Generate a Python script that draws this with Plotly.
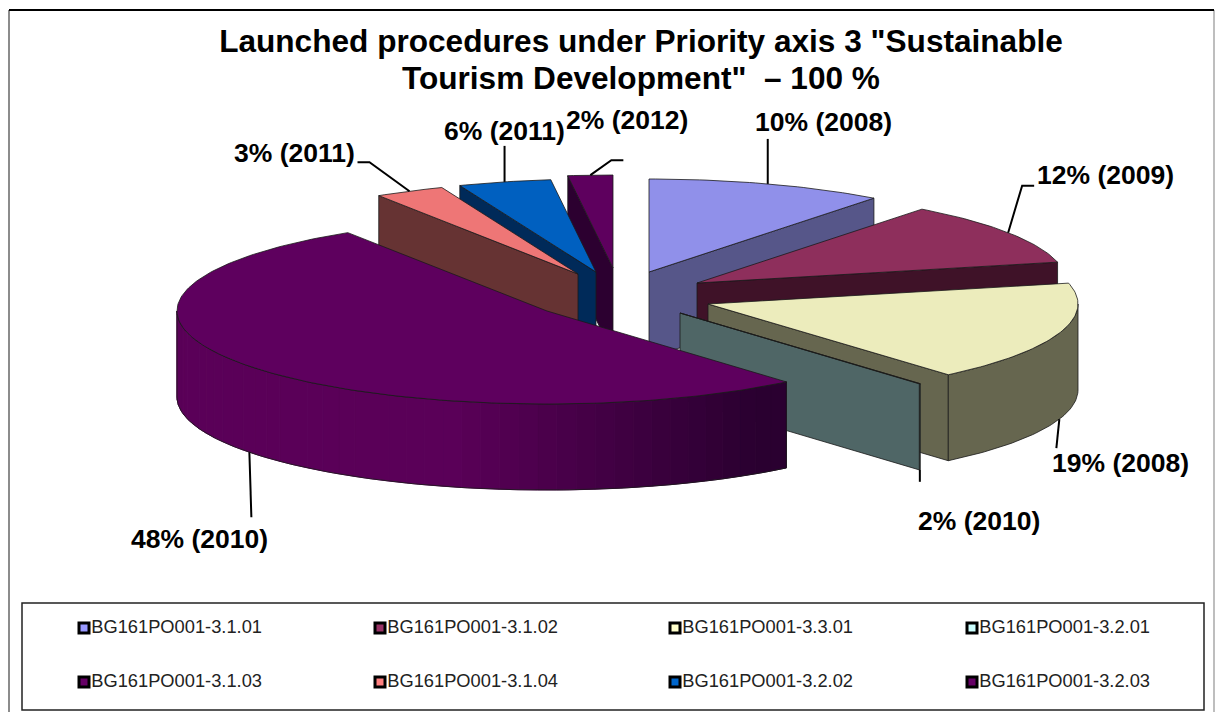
"""
Exploded 3D-look pie of launched procedures, drawn as filled polygons on hidden axes.
"""
import math
import plotly.graph_objects as go

# data
codes = ["BG161PO001-3.1.01", "BG161PO001-3.1.02", "BG161PO001-3.3.01", "BG161PO001-3.2.01",
         "BG161PO001-3.1.03", "BG161PO001-3.1.04", "BG161PO001-3.2.02", "BG161PO001-3.2.03"]
slice_labels = ["10% (2008)", "12% (2009)", "19% (2008)", "2% (2010)",
                "48% (2010)", "3% (2011)", "6% (2011)", "2% (2012)"]
# share of the circle each slice really takes in the drawing
shares = [10.4, 11.0, 17.35, 0.05, 52.15, 3.05, 4.05, 1.95]

legend_colors = ["#9999FF", "#993366", "#FFFFCC", "#CCFFFF", "#660066", "#FF8080", "#0066CC", "#660066"]
top_colors = ["#9090EA", "#8E2F5C", "#ECECBC", "#CCFFFF", "#5E005E", "#EE7676", "#0060C0", "#5E005E"]
wall_colors = ["#565689", "#3F1228", "#66664F", "#4F6666", "#5A0058", "#663333", "#002A59", "#2C0030"]

# pixel layout of the projected pie
RX, RY, DEPTH = 370, 93, 86
apex = [(649, 272), (697, 283), (708, 304), (680, 313), (547, 311), (578, 274), (596, 272), (613, 268)]
end_wall = [0, 1, 2, 3]      # slices that show the face at their clockwise end
start_wall = [5, 6, 7]       # slices that show the face at their start
draw_order = [0, 1, 2, 3, 7, 6, 5, 4]
leader_steps = [[(0, -45)], [(14, -47), (26, -47)], [(-3, 29)], [(0, 12)], [(2, 65)],
                [(-40, -29), (-52, -29)], [(0, -36)], [(21, -15), (33, -15)]]
leader_down = [0, 0, DEPTH, DEPTH, DEPTH, 0, 0, 0]
label_pos = [(823, 122), (1105, 175), (1120, 463), (979, 521),
             (199, 539), (294, 153), (504, 131), (627, 120)]
legend_x = [84, 380, 675, 972]
legend_y = [628, 682]

OUTLINE = "#1a1a1a"

angles = []
total = 0
for s in shares:
    angles.append((total * 3.6, (total + s) * 3.6))
    total += s


def pt(i, deg, down=0):
    a = math.radians(deg)
    return apex[i][0] + RX * math.sin(a), apex[i][1] - RY * math.cos(a) + down


def arc(i, d0, d1, down=0):
    n = max(2, int(abs(d1 - d0)) + 2)
    return [pt(i, d0 + (d1 - d0) * k / (n - 1), down) for k in range(n)]


def poly(fig, points, fill, line=OUTLINE, width=0.8):
    xs = [p[0] for p in points] + [points[0][0]]
    ys = [p[1] for p in points] + [points[0][1]]
    fig.add_trace(go.Scatter(x=xs, y=ys, mode="lines", fill="toself", fillcolor=fill,
                             line=dict(color=line, width=width), hoverinfo="skip", showlegend=False))


def radial_wall(fig, i, deg):
    ax, ay = apex[i]
    ex, ey = pt(i, deg)
    poly(fig, [(ax, ay), (ex, ey), (ex, ey + DEPTH), (ax, ay + DEPTH)], wall_colors[i])


def mix(c0, c1, t):
    a = [int(c0[k:k + 2], 16) for k in (1, 3, 5)]
    b = [int(c1[k:k + 2], 16) for k in (1, 3, 5)]
    return "#%02X%02X%02X" % tuple(round(a[k] + (b[k] - a[k]) * t) for k in range(3))


def curved_wall(fig, i, d0, d1, dark=None):
    top = arc(i, d0, d1)
    bottom = arc(i, d0, d1, DEPTH)
    if dark is None:
        poly(fig, top + bottom[::-1], wall_colors[i])
        return
    # shaded wall: dark at the right hand end, flat colour further left
    x0 = min(p[0] for p in top)
    x1 = max(p[0] for p in top)
    step = 3
    for k in range(0, len(top) - 1, step):
        j = min(k + step, len(top) - 1)
        mid = (top[k][0] + top[j][0]) / 2
        t = max(0.0, ((mid - x0) / (x1 - x0) - 0.45) / 0.5)
        color = mix(wall_colors[i], dark, min(t, 1.0))
        poly(fig, top[k:j + 1] + bottom[k:j + 1][::-1], color, line=color, width=1)
    # outline over the strips
    poly(fig, top + bottom[::-1], "rgba(0,0,0,0)")


fig = go.Figure()

for i in draw_order:
    d0, d1 = angles[i]
    if i in end_wall:
        radial_wall(fig, i, d1)
    if i in start_wall:
        radial_wall(fig, i, d0)
    lo, hi = max(d0, 90), min(d1, 270)
    if lo < hi:
        curved_wall(fig, i, lo, hi, dark="#2A0030" if i == 4 else None)
    poly(fig, [apex[i]] + arc(i, d0, d1), top_colors[i])

# leader lines start on the arc at the middle of each slice
for i in range(len(shares)):
    sx, sy = pt(i, sum(angles[i]) / 2, leader_down[i])
    xs = [sx] + [sx + dx for dx, dy in leader_steps[i]]
    ys = [sy] + [sy + dy for dx, dy in leader_steps[i]]
    fig.add_trace(go.Scatter(x=xs, y=ys, mode="lines", line=dict(color="black", width=2),
                             hoverinfo="skip", showlegend=False))

# legend block
for i, code in enumerate(codes):
    fig.add_trace(go.Scatter(x=[legend_x[i % 4]], y=[legend_y[i // 4]], mode="markers+text",
                             marker=dict(symbol="square", size=10, color=legend_colors[i],
                                         line=dict(color="black", width=3)),
                             text=[code], textposition="middle right",
                             textfont=dict(family="Liberation Sans", size=18.3, color="#222222"),
                             hoverinfo="skip", showlegend=False))

for (x, y), text in zip(label_pos, slice_labels):
    fig.add_annotation(x=x, y=y, text="<b>%s</b>" % text, showarrow=False,
                       font=dict(family="Liberation Sans", size=26.5, color="black"))

# second title line: the first one is the layout title
fig.add_annotation(x=641, y=78, text="<b>Tourism Development\"\u00a0 \u2013 100 %</b>", showarrow=False,
                   font=dict(family="Liberation Sans", size=31.6, color="black"))

frame = [
    dict(type="line", x0=9, x1=9, y0=10, y1=712, line=dict(color="#666666", width=1.5)),
    dict(type="line", x0=1214, x1=1214, y0=10, y1=712, line=dict(color="#A8A8A8", width=1.5)),
    dict(type="line", x0=9, x1=1214, y0=10, y1=10, line=dict(color="black", width=2)),
    dict(type="rect", x0=22, x1=1204, y0=603, y1=710, line=dict(color="#222222", width=1.5)),
]

fig.update_layout(
    width=1215, height=712,
    margin=dict(l=0, r=0, t=0, b=0),
    paper_bgcolor="white", plot_bgcolor="white",
    xaxis=dict(range=[0, 1215], visible=False, fixedrange=True),
    yaxis=dict(range=[712, 0], visible=False, fixedrange=True),
    shapes=frame,
    title=dict(text="<b>Launched procedures under Priority axis 3 \"Sustainable</b>",
               x=641 / 1215, xanchor="center", y=1 - 41 / 712, yanchor="middle",
               font=dict(family="Liberation Sans", size=31.6, color="black")),
)

fig.write_html("out.html", config=dict(displayModeBar=False),
               post_script="document.body.style.margin = '0';")
